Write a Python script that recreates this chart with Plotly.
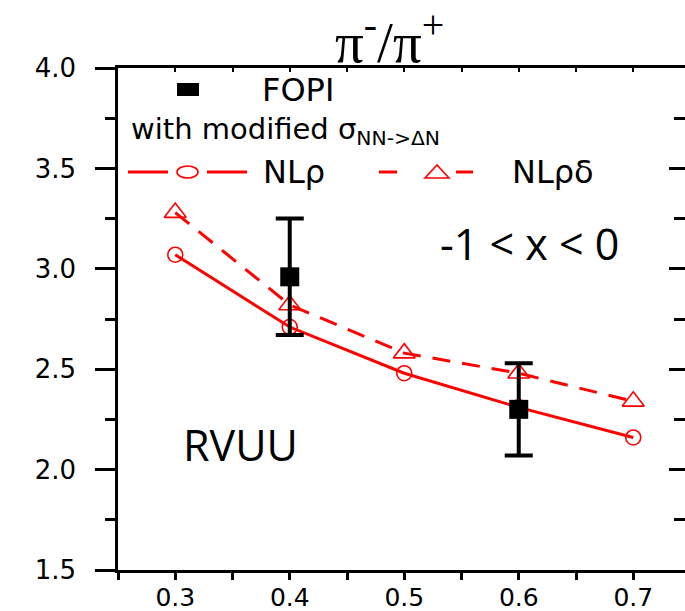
import plotly.graph_objects as go

# ---- data ----
x_vals = [0.3, 0.4, 0.5, 0.6, 0.7]
nl_rho = [3.07, 2.71, 2.48, 2.31, 2.16]
nl_rho_delta = [3.28, 2.82, 2.58, 2.48, 2.34]
fopi_x = [0.4, 0.6]
fopi_y = [2.96, 2.30]
fopi_err_plus = [0.29, 0.23]
fopi_err_minus = [0.29, 0.23]
y_ticks = [1.5, 2.0, 2.5, 3.0, 3.5, 4.0]
x_ticks = [0.3, 0.4, 0.5, 0.6, 0.7]

W, H = 685, 611
L, R, T, B = 118, 685, 68, 570


def px(p):
    return (p - L) / (R - L)


def py(p):
    return (B - p) / (B - T)


RED = "#ff0000"
YTICKFONT = dict(family="DejaVu Sans", size=26, color="black")
XTICKFONT = dict(family="DejaVu Sans", size=25, color="black")

fig = go.Figure()

fig.add_trace(go.Scatter(
    x=x_vals, y=nl_rho, mode="lines+markers", name="NLρ",
    line=dict(color=RED, width=3),
    marker=dict(symbol="circle-open", size=15, color=RED, line=dict(width=1.6, color=RED)),
    showlegend=False))
fig.add_trace(go.Scatter(
    x=x_vals, y=nl_rho_delta, mode="lines+markers", name="NLρδ",
    line=dict(color=RED, width=3, dash="18px,12px"),
    marker=dict(symbol="triangle-up-open", size=19, color=RED, line=dict(width=1.6, color=RED)),
    showlegend=False))
fig.add_trace(go.Scatter(
    x=fopi_x, y=fopi_y, mode="markers", name="FOPI",
    marker=dict(symbol="square", size=19, color="black"),
    error_y=dict(type="data", symmetric=False, array=fopi_err_plus, arrayminus=fopi_err_minus,
                 color="black", thickness=4, width=14),
    showlegend=False))
# invisible trace so the mirrored axes are drawn
fig.add_trace(go.Scatter(x=x_vals, y=nl_rho, xaxis="x2", yaxis="y2", mode="markers",
                         marker=dict(opacity=0), hoverinfo="skip", showlegend=False))

xr = [0.25, 0.25 + 0.1 * (R - L) / 114.5]
yr = [1.5, 4.0]

fig.update_layout(
    width=W, height=H,
    margin=dict(l=L, r=W - R, t=T, b=H - B),
    paper_bgcolor="white", plot_bgcolor="white",
    xaxis=dict(range=xr, tickvals=x_ticks, ticktext=[f"{v:.1f}" for v in x_ticks],
               ticks="outside", ticklen=7, tickwidth=2.5, tickcolor="black",
               minor=dict(dtick=0.05, tick0=0.25, ticks="outside", ticklen=7, tickwidth=2.5, tickcolor="black"),
               showline=True, linecolor="black", linewidth=2.5, showgrid=False, zeroline=False,
               tickfont=XTICKFONT, ticklabelstandoff=-4, automargin=False),
    yaxis=dict(range=yr, tickvals=y_ticks, ticktext=[f"{v:.1f}" for v in y_ticks],
               ticks="outside", ticklen=20, tickwidth=2.5, tickcolor="black",
               minor=dict(dtick=0.25, tick0=1.5, ticks="outside", ticklen=10, tickwidth=2.5, tickcolor="black"),
               showline=True, linecolor="black", linewidth=2.5, showgrid=False, zeroline=False,
               tickfont=YTICKFONT, ticklabelstandoff=14, automargin=False),
    xaxis2=dict(range=xr, overlaying="x", side="top", anchor="y2", tickvals=x_ticks,
                showticklabels=False, ticks="inside", ticklen=4, tickwidth=2, tickcolor="black",
                minor=dict(dtick=0.05, tick0=0.25, ticks="inside", ticklen=4, tickwidth=2, tickcolor="black"),
                showline=True, linecolor="black", linewidth=2.5, showgrid=False, zeroline=False,
                automargin=False),
    yaxis2=dict(range=yr, overlaying="y", side="right", anchor="x2", tickvals=y_ticks,
                showticklabels=False, ticks="inside", ticklen=16, tickwidth=2.5, tickcolor="black",
                minor=dict(dtick=0.25, tick0=1.5, ticks="inside", ticklen=11, tickwidth=2.5, tickcolor="black"),
                showline=False, showgrid=False, zeroline=False, automargin=False),
)

shapes = []
ann = []

# legend: FOPI
shapes.append(dict(type="rect", xref="paper", yref="paper", x0=px(177), x1=px(199), y0=py(96), y1=py(83),
                   fillcolor="black", line=dict(width=0)))
ann.append(dict(text="FOPI", x=px(260), y=py(90), xanchor="left", yanchor="middle",
                font=dict(family="DejaVu Sans", size=32, color="black")))
ann.append(dict(text="with modified σ<sub>NN-&gt;ΔN</sub>", x=px(129), y=py(131), xanchor="left", yanchor="middle",
                font=dict(family="DejaVu Sans", size=29, color="black")))
# legend: NLrho
for a, b in [(128, 168), (207, 247)]:
    shapes.append(dict(type="line", xref="paper", yref="paper", x0=px(a), x1=px(b), y0=py(172), y1=py(172),
                       line=dict(color=RED, width=3)))
shapes.append(dict(type="circle", xref="paper", yref="paper", x0=px(177), x1=px(198), y0=py(178), y1=py(166),
                   line=dict(color=RED, width=1.6)))
ann.append(dict(text="NLρ", x=px(261), y=py(172), xanchor="left", yanchor="middle",
                font=dict(family="DejaVu Sans", size=32, color="black")))
# legend: NLrho delta
for a, b in [(379, 397), (456, 473)]:
    shapes.append(dict(type="line", xref="paper", yref="paper", x0=px(a), x1=px(b), y0=py(172), y1=py(172),
                       line=dict(color=RED, width=3)))
tx0, tx1, ty0, ty1 = px(425), px(449), py(178), py(165)
shapes.append(dict(type="path", xref="paper", yref="paper",
                   path=f"M {tx0} {ty0} L {tx1} {ty0} L {(tx0 + tx1) / 2} {ty1} Z",
                   line=dict(color=RED, width=1.6)))
ann.append(dict(text="NLρδ", x=px(510), y=py(172), xanchor="left", yanchor="middle",
                font=dict(family="DejaVu Sans", size=32, color="black")))

# title and labels
ann.append(dict(text="π<sup>-</sup>/π<sup>+</sup>", x=px(389), y=py(38), xanchor="center", yanchor="middle",
                font=dict(family="Liberation Serif", size=57, color="black")))
ann.append(dict(text="-1 &lt; x &lt; 0", x=px(438), y=py(243), xanchor="left", yanchor="middle",
                font=dict(family="Open Sans", size=43, color="black")))
ann.append(dict(text="RVUU", x=px(181), y=py(444), xanchor="left", yanchor="middle",
                font=dict(family="Open Sans", size=43, color="black")))

for a in ann:
    a.update(xref="paper", yref="paper", showarrow=False)

fig.update_layout(shapes=shapes, annotations=ann)

fig.write_html("out.html", config={"displayModeBar": False},
               post_script="document.body.style.margin='0';document.body.style.overflow='hidden';")
